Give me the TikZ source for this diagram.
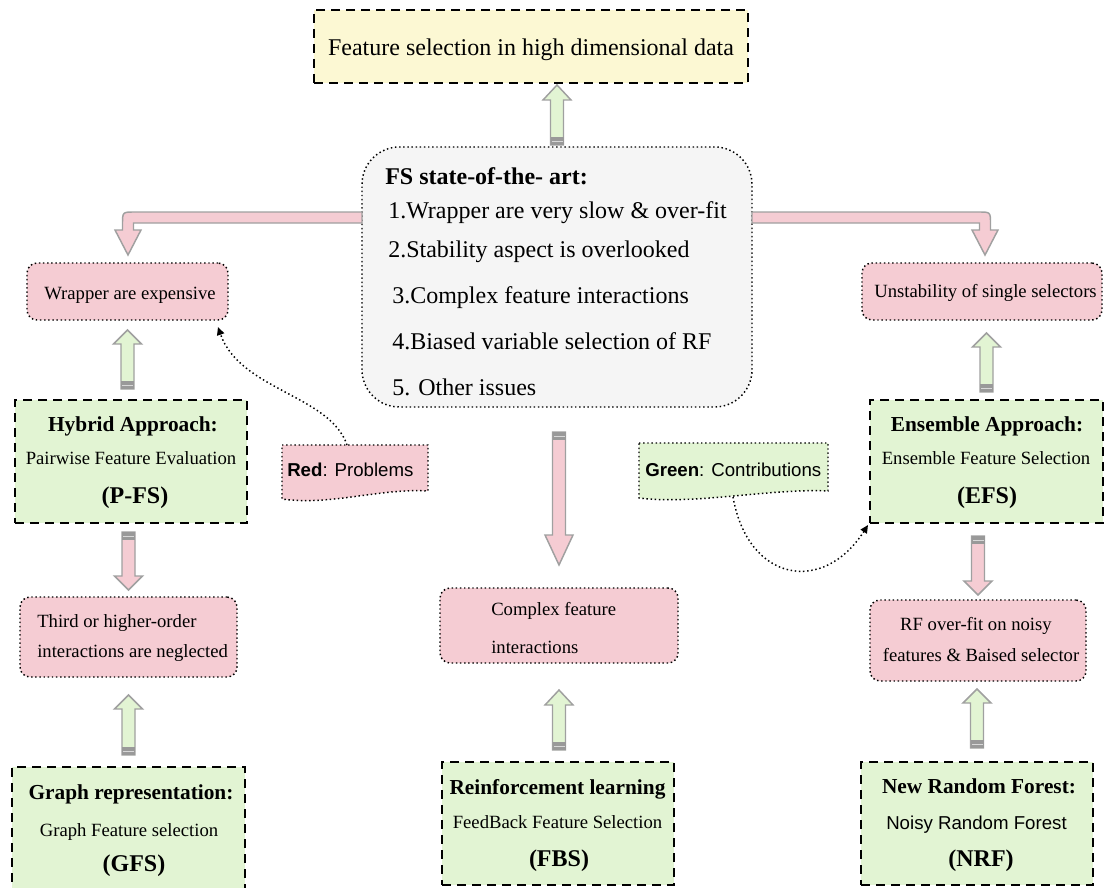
\documentclass[tikz,border=0pt]{standalone}
\usepackage{fontspec}
\setmainfont{Liberation Serif}
\newfontfamily\arialfont{Liberation Sans}
\usetikzlibrary{calc,fit,arrows.meta}

\definecolor{titlefill}{HTML}{FCF8D3}
\definecolor{statefill}{HTML}{F5F5F5}
\definecolor{probfill}{HTML}{F5CCD3}
\definecolor{contribfill}{HTML}{E2F4D3}
\definecolor{arrowedge}{HTML}{A0A0A0}
\definecolor{tailgray}{HTML}{999999}
\definecolor{tailstripe}{HTML}{D8D8D8}

\tikzset{
  px/.style={x=0.75pt,y=-0.75pt},
  dotline/.style={line width=1.1pt, dash pattern=on 1.1pt off 2pt},
  dashline/.style={line width=1.1pt, dash pattern=on 6.75pt off 4.5pt},
  frame/.style={inner sep=0pt, outer sep=0pt},
  titlebox/.style={frame, draw=black, dashline, fill=titlefill},
  statebox/.style={frame, draw=black, dotline, fill=statefill, rounded corners=28pt},
  probbox/.style={frame, draw=black, dotline, fill=probfill, rounded corners=7.5pt},
  contribbox/.style={frame, draw=black, dashline, fill=contribfill},
  legendarea/.style={frame},
  txt/.style={inner sep=0pt, anchor=base, font=\fontsize{14}{17}\selectfont},
  headtxt/.style={txt, font=\fontsize{16}{19}\selectfont\bfseries},
  acrotxt/.style={txt, font=\fontsize{18}{21}\selectfont\bfseries},
  bigtxt/.style={txt, font=\fontsize{18}{21}\selectfont},
  bigbold/.style={txt, font=\fontsize{18}{21}\selectfont\bfseries},
  sanstxt/.style={txt, font=\arialfont\fontsize{14}{17}\selectfont},
  fatedge/.style={draw=arrowedge, line width=1.1pt, line join=miter},
  tailline/.style={draw=tailstripe, line width=0.6pt},
  tipdot/.style={dotline, -{Triangle[length=6pt,width=5.5pt]}}
}

% Block arrow: #1 tail point, #2 tip point, #3 fill,
% #4 signed head length, #5 signed length of the grey tail band
\newcommand\fatarrow[5]{%
  \coordinate (fa-t) at #1;
  \coordinate (fa-h) at #2;
  \coordinate (fa-p) at (fa-t |- fa-h);
  \draw[fatedge, fill=#3] ($(fa-t)+(-6.5,0)$) -- ($(fa-p)+(-6.5,#4)$)
    -- ($(fa-p)+(-14,#4)$) -- (fa-p) -- ($(fa-p)+(14,#4)$)
    -- ($(fa-p)+(6.5,#4)$) -- ($(fa-t)+(6.5,0)$) -- cycle;
  \fill[tailgray] ($(fa-t)+(-6.5,0)$) rectangle ($(fa-t)+(6.5,#5)$);
  \draw[tailline] ($(fa-t)+(-5.5,#5*0.5)$) -- ($(fa-t)+(5.5,#5*0.5)$);
}

\begin{document}
\begin{tikzpicture}[px]
\useasboundingbox (0,0) rectangle (1106,888);
\clip (0,0) rectangle (1106,888);

% ---- title ----
\node[titlebox, fit={(314,10) (748,83)}] (title) {};
\node[bigtxt] (title-t) at (531,56) {Feature selection in high dimensional data};

% ---- state of the art ----
\node[statebox, fit={(362,147) (752,407)}] (cbox) {};
\node[bigbold, anchor=base west] (c0) at (385,185) {FS state-of-the- art:};
\node[bigtxt, anchor=base west] (c1) at (388,218) {1.Wrapper are very slow \& over-fit};
\node[bigtxt, anchor=base west] (c2) at (388,257) {2.Stability aspect is overlooked};
\node[bigtxt, anchor=base west] (c3) at (392,303) {3.Complex feature interactions};
\node[bigtxt, anchor=base west] (c4) at (392,349) {4.Biased variable selection of RF};
\node[bigtxt, anchor=base west] (c5) at (392,395) {5. Other issues};

% ---- problems ----
\node[probbox, fit={(27,263) (228,320)}] (wrap) {};
\node[txt] (wrap-t) at (130,299) {Wrapper are expensive};
\node[probbox, fit={(862,263) (1102,320)}] (unst) {};
\node[txt] (unst-t) at (985.5,297) {Unstability of single selectors};
\node[probbox, fit={(20,597) (237,677)}] (third) {};
\node[txt, anchor=base west] (third-a) at (37,627) {Third or higher-order};
\node[txt, anchor=base west] (third-b) at (37,657) {interactions are neglected};
\node[probbox, fit={(440,588) (678,663)}] (cplx) {};
\node[txt, anchor=base west] (cplx-a) at (491,615) {Complex feature};
\node[txt, anchor=base west] (cplx-b) at (491,653) {interactions};
\node[probbox, fit={(870,600) (1086,681)}] (rf) {};
\node[txt] (rf-a) at (976,630) {RF over-fit on noisy};
\node[txt] (rf-b) at (981,661) {features \& Baised selector};

% ---- contributions ----
\node[contribbox, fit={(15,400) (247,523)}] (hyb) {};
\node[headtxt] (hyb-a) at (133,431) {Hybrid Approach:};
\node[txt] (hyb-b) at (131,464) {Pairwise Feature Evaluation};
\node[acrotxt] (hyb-c) at (135,503) {(P-FS)};
\node[contribbox, fit={(870,400) (1103,523)}] (efs) {};
\node[headtxt] (efs-a) at (987,431) {Ensemble Approach:};
\node[txt] (efs-b) at (986,464) {Ensemble Feature Selection};
\node[acrotxt] (efs-c) at (987,503) {(EFS)};
\node[contribbox, fit={(12,767) (245,900)}] (gfs) {};
\node[headtxt] (gfs-a) at (131,799) {Graph representation:};
\node[txt] (gfs-b) at (129,836) {Graph Feature selection};
\node[acrotxt] (gfs-c) at (134,871) {(GFS)};
\node[contribbox, fit={(442,762) (674,885)}] (fbs) {};
\node[headtxt] (fbs-a) at (557.5,794) {Reinforcement learning};
\node[txt] (fbs-b) at (557.5,828) {FeedBack Feature Selection};
\node[acrotxt] (fbs-c) at (559,866) {(FBS)};
\node[contribbox, fit={(861,762) (1093,885)}] (nrf) {};
\node[headtxt] (nrf-a) at (979,793) {New Random Forest:};
\node[sanstxt] (nrf-b) at (976.5,829) {Noisy Random Forest};
\node[acrotxt] (nrf-c) at (981,866) {(NRF)};

% ---- legend (document shapes with a wavy lower edge) ----
\node[legendarea, fit={(282,445) (428,491)}] (redleg) {};
\draw[dotline, fill=probfill] (redleg.north west) -- (redleg.north east) -- (redleg.south east)
  .. controls +(-48,-3) and +(48,7) .. ($(redleg.south west)+(0,8)$) -- cycle;
\node[sanstxt, anchor=base west] (redleg-t) at (287,476) {\textbf{Red}: Problems};
\node[legendarea, fit={(639,443) (828,491)}] (greenleg) {};
\draw[dotline, fill=contribfill] (greenleg.north west) -- (greenleg.north east) -- (greenleg.south east)
  .. controls +(-55,-3) and +(55,7) .. ($(greenleg.south west)+(0,7)$) -- cycle;
\node[sanstxt, anchor=base west] (greenleg-t) at (645,476) {\textbf{Green}: Contributions};

\draw[tipdot] ($(redleg.north)+(-8,0)$) .. controls +(-17,-50) and +(22,63) .. ($(wrap.south east)+(-10,7)$);
\draw[tipdot] ($(greenleg.south)+(-0.5,6)$) .. controls +(15,85) and +(-45,70) .. ($(efs.south west)+(-2,2)$);

% ---- bent arrows out of the state-of-the-art box ----
\coordinate (ls) at ($(cbox.west)+(0,-59.5)$);
\coordinate (lt) at ($(wrap.north)+(0.5,-8)$);
\coordinate (lc) at (lt |- ls);
\draw[fatedge, fill=probfill] ($(ls)+(0,-5.5)$) -- ($(lc)+(6.5,-5.5)$)
  .. controls ($(lc)+(-5.5,-5.5)$) .. ($(lc)+(-5.5,6.5)$) -- ($(lt)+(-5.5,-25)$)
  -- ($(lt)+(-13,-25)$) -- (lt) -- ($(lt)+(13,-25)$) -- ($(lt)+(5.5,-25)$)
  -- ($(lc)+(5.5,5.5)$) -- ($(ls)+(0,5.5)$) -- cycle;

\coordinate (rs) at ($(cbox.east)+(0,-59.5)$);
\coordinate (rt) at ($(unst.north)+(3,-8)$);
\coordinate (rc) at (rt |- rs);
\draw[fatedge, fill=probfill] ($(rs)+(0,-5.5)$) -- ($(rc)+(-6.5,-5.5)$)
  .. controls ($(rc)+(5.5,-5.5)$) .. ($(rc)+(5.5,6.5)$) -- ($(rt)+(5.5,-25)$)
  -- ($(rt)+(13,-25)$) -- (rt) -- ($(rt)+(-13,-25)$) -- ($(rt)+(-5.5,-25)$)
  -- ($(rc)+(-5.5,5.5)$) -- ($(rs)+(0,5.5)$) -- cycle;

% ---- straight block arrows ----
\fatarrow{($(cbox.north)+(0,-2)$)}{($(title.south)+(0,2)$)}{contribfill}{15}{-8}
\fatarrow{($(wrap.south |- hyb.north)+(0,-11)$)}{($(wrap.south)+(0,10)$)}{contribfill}{14}{-8}
\fatarrow{($(third.north |- hyb.south)+(0,9)$)}{($(third.north)+(0,-7)$)}{probfill}{-14}{8}
\fatarrow{($(third.south |- gfs.north)+(0,-12)$)}{($(third.south)+(0,18)$)}{contribfill}{14}{-8}
\fatarrow{($(cplx.north |- cbox.south)+(0,25)$)}{($(cplx.north)+(0,-23)$)}{probfill}{-30}{8}
\fatarrow{($(cplx.south |- fbs.north)+(0,-12)$)}{($(cplx.south)+(0,27)$)}{contribfill}{15}{-8}
\fatarrow{($(efs.north)+(0,-8)$)}{($(efs.north |- unst.south)+(0,13)$)}{contribfill}{14}{-8}
\fatarrow{($(rf.north |- efs.south)+(0,13)$)}{($(rf.north)+(0,-5)$)}{probfill}{-14}{8}
\fatarrow{($(nrf.north)+(0,-14)$)}{($(nrf.north |- rf.south)+(0,8)$)}{contribfill}{14}{-8}
\end{tikzpicture}
\end{document}
